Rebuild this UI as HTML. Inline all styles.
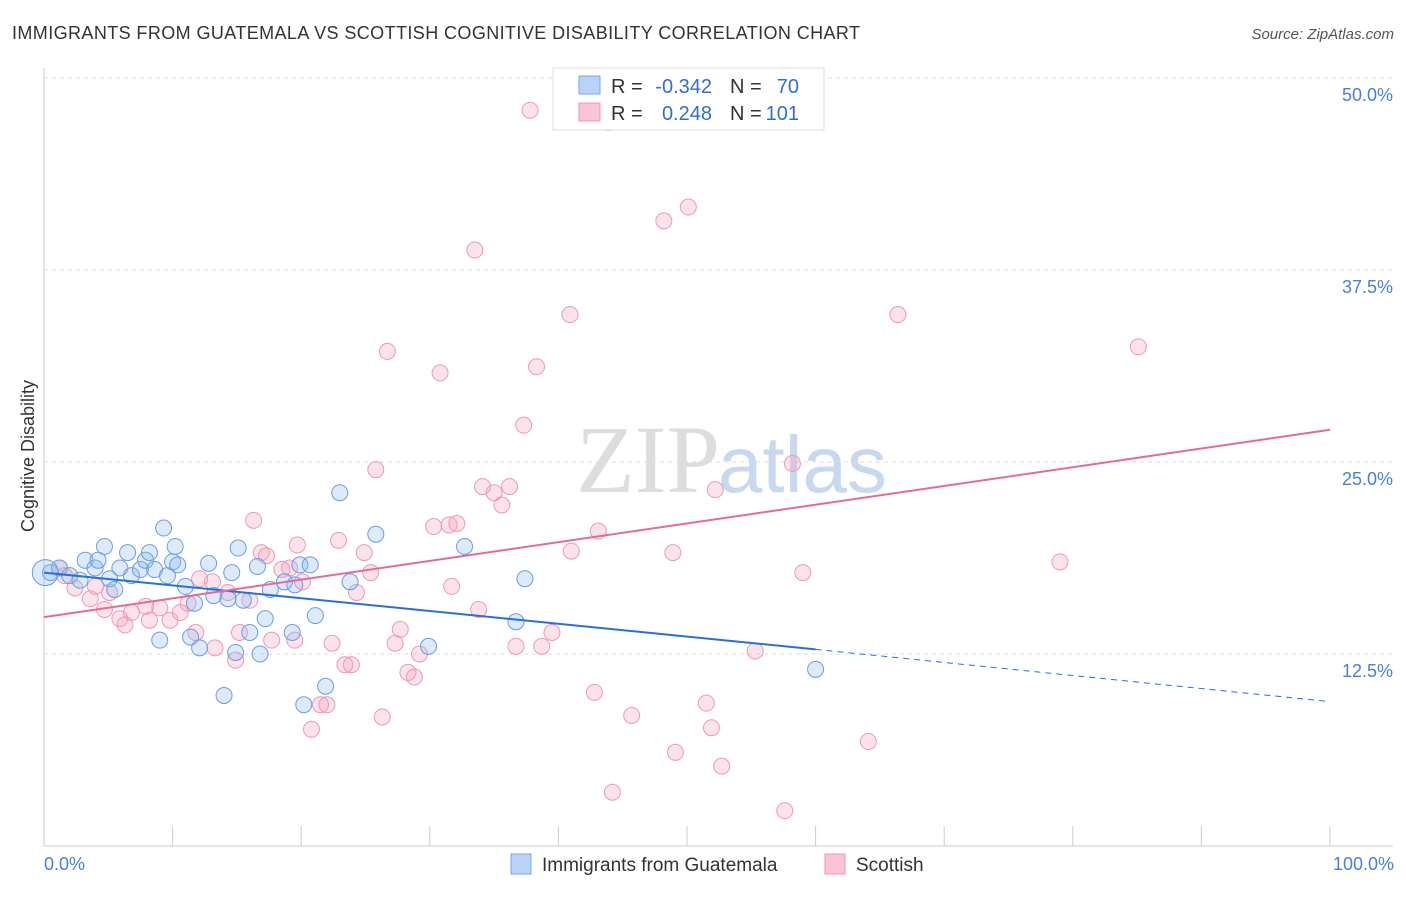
<!DOCTYPE html>
<html><head><meta charset="utf-8"><style>
body{margin:0;background:#fff;font-family:"Liberation Sans",sans-serif}
</style></head><body>
<svg width="1406" height="892" xmlns="http://www.w3.org/2000/svg" font-family="Liberation Sans, sans-serif">
<text x="12" y="39" font-size="18" fill="#333" textLength="848" lengthAdjust="spacing">IMMIGRANTS FROM GUATEMALA VS SCOTTISH COGNITIVE DISABILITY CORRELATION CHART</text>
<text x="1394" y="39" font-size="15" fill="#555" text-anchor="end" font-style="italic">Source: ZipAtlas.com</text>
<text x="720" y="492" font-size="96" fill="#ddd" text-anchor="end" font-family="Liberation Serif, serif">ZIP</text>
<text x="718" y="492" font-size="80" fill="#c8d8ee">atlas</text>
<g id="grid"></g>
<g id="axes"></g>
<g id="pts"></g>
<g id="lines"></g>
<text x="34" y="456" font-size="18" fill="#333" text-anchor="middle" transform="rotate(-90 34 456)">Cognitive Disability</text>
<text x="44" y="870" font-size="18" fill="#4a7fd4">0.0%</text>
<text x="1394" y="870" font-size="18" fill="#4a7fd4" text-anchor="end">100.0%</text>
<g>
<rect x="553" y="68" width="271" height="62" fill="#fff" stroke="#ddd"/>
<rect x="579" y="76" width="21" height="18" fill="#b8d3f5" stroke="#7aa8e6"/>
<rect x="579" y="103" width="21" height="18" fill="#f9c4d3" stroke="#ee96b0"/>
<text x="611" y="93" font-size="20" fill="#333">R =</text>
<text x="712" y="93" font-size="20" fill="#2f6fd0" text-anchor="end">-0.342</text>
<text x="730" y="93" font-size="20" fill="#333">N =</text>
<text x="799" y="93" font-size="20" fill="#2f6fd0" text-anchor="end">70</text>
<text x="611" y="120" font-size="20" fill="#333">R =</text>
<text x="712" y="120" font-size="20" fill="#2f6fd0" text-anchor="end">0.248</text>
<text x="730" y="120" font-size="20" fill="#333">N =</text>
<text x="799" y="120" font-size="20" fill="#2f6fd0" text-anchor="end">101</text>
</g>
<g>
<rect x="511" y="854" width="20" height="20" fill="#b8d3f5" stroke="#7aa8e6"/>
<text x="542" y="871" font-size="19" fill="#333">Immigrants from Guatemala</text>
<rect x="825" y="854" width="20" height="20" fill="#f9c4d3" stroke="#ee96b0"/>
<text x="856" y="871" font-size="19" fill="#333">Scottish</text>
</g>
</svg>
<script>
const yTicks=[12.5,25,37.5,50];
const yTickLabels=["12.5%","25.0%","37.5%","50.0%"];
const xTicks=[0,10,20,30,40,50,60,70,80,90,100];
const blueX=[0.5,1.2,2.0,2.8,3.2,3.97,4.2,4.7,5.1,5.5,5.9,6.5,6.8,7.5,7.9,8.2,8.6,9.0,9.3,9.6,10.0,10.2,10.4,11.0,11.4,11.7,12.1,12.8,13.2,14.0,14.3,14.6,14.9,15.1,15.5,16.0,16.6,16.8,17.2,17.6,18.7,19.3,19.5,19.9,20.2,20.7,21.1,21.9,23.0,23.8,25.8,29.9,32.7,36.7,37.4,60.0,0.1];
const blueY=[17.8,18.1,17.6,17.3,18.6,18.1,18.6,19.5,17.4,16.7,18.1,19.1,17.6,18.0,18.6,19.1,18.0,13.4,20.7,17.6,18.5,19.5,18.3,16.9,13.6,15.8,12.9,18.4,16.3,9.8,16.1,17.8,12.6,19.4,16.0,13.9,18.2,12.5,14.8,16.7,17.2,13.9,17.0,18.3,9.2,18.3,15.0,10.4,23.0,17.2,20.3,13.0,19.5,14.6,17.4,11.5,17.8];
const pinkX=[37.8,43.9,48.2,50.1,33.5,40.9,66.4,85.1,26.7,30.8,38.3,37.3,25.8,58.2,34.1,35.0,36.2,35.6,52.2,16.3,30.3,31.5,32.1,43.1,22.9,19.7,16.9,17.3,24.9,41.0,48.9,79.0,59.0,25.4,18.5,19.1,20.1,12.1,13.1,31.7,24.3,14.3,16.0,9.0,7.9,10.6,11.2,6.8,5.9,4.7,3.6,4.0,5.1,2.4,1.6,1.2,33.8,8.2,9.8,6.3,11.8,15.2,17.7,19.5,22.4,27.7,27.3,29.2,36.7,38.7,39.5,55.3,13.3,14.9,23.4,23.9,28.3,28.8,42.8,51.5,21.5,22.0,45.7,26.3,51.9,20.8,64.1,49.1,52.7,44.2,57.6,53.8];
const pinkY=[47.9,47.1,40.7,41.6,38.8,34.6,34.6,32.5,32.2,30.8,31.2,27.4,24.5,24.9,23.4,23.0,23.4,22.2,23.2,21.2,20.8,20.9,21.0,20.5,19.9,19.6,19.1,18.9,19.1,19.2,19.1,18.5,17.8,17.8,18.0,18.1,17.2,17.4,17.2,16.9,16.5,16.5,16.0,15.5,15.6,15.2,15.8,15.2,14.8,15.4,16.1,16.9,16.5,16.8,17.6,18.1,15.4,14.7,14.7,14.4,13.9,13.9,13.4,13.4,13.2,14.1,13.2,12.5,13.0,13.0,13.9,12.7,12.9,12.1,11.8,11.8,11.3,11.0,10.0,9.3,9.2,9.2,8.5,8.4,7.7,7.6,6.8,6.1,5.2,3.5,2.3,49.9];
const blueTrend=[[0,17.8],[60,12.8],[100,9.4]];
const pinkTrend=[[0,14.9],[100,27.1]];
const NS="http://www.w3.org/2000/svg";
const sx=v=>44+v*12.86, sy=v=>846-v*15.36;
function mk(t,a,p){const e=document.createElementNS(NS,t);for(const k in a)e.setAttribute(k,a[k]);document.getElementById(p).appendChild(e);return e;}
yTicks.forEach((t,i)=>{
 const g=mk('line',{x1:44,x2:1393,y1:sy(t),y2:sy(t),stroke:'#ddd','stroke-dasharray':'4,4'},'grid');
 
 
 const l=mk('text',{x:1393,y:sy(t)+23,'font-size':18,fill:'#4a7fd4','text-anchor':'end'},'axes');
 l.textContent=yTickLabels[i];
 
 
});
const ax=mk('line',{x1:44,x2:1393,y1:846,y2:846,stroke:'#ccc'},'axes');


const ay=mk('line',{x1:44,x2:44,y1:68,y2:846,stroke:'#ccc'},'axes');


xTicks.forEach(t=>{const e=mk('line',{x1:sx(t),x2:sx(t),y1:826,y2:846,stroke:'#ccc'},'axes');
 
 });
pinkX.forEach((x,i)=>{const c=mk('circle',{cx:sx(x),cy:sy(pinkY[i]),r:8,fill:'rgba(244,160,186,0.3)',stroke:'#ee9ab4','stroke-width':1},'pts');
 
 });
blueX.forEach((x,i)=>{const c=mk('circle',{cx:sx(x),cy:sy(blueY[i]),r:i==blueX.length-1?13:8,fill:'rgba(140,185,240,0.3)',stroke:'#6a9ee0','stroke-width':1},'pts');
 
 });
const b1=mk('line',{x1:sx(blueTrend[0][0]),y1:sy(blueTrend[0][1]),x2:sx(blueTrend[1][0]),y2:sy(blueTrend[1][1]),stroke:'#2a6fd6','stroke-width':2},'lines');


const b2=mk('line',{x1:sx(blueTrend[1][0]),y1:sy(blueTrend[1][1]),x2:sx(blueTrend[2][0]),y2:sy(blueTrend[2][1]),stroke:'#2a6fd6','stroke-width':1,'stroke-dasharray':'6,5'},'lines');


const p1=mk('line',{x1:sx(pinkTrend[0][0]),y1:sy(pinkTrend[0][1]),x2:sx(pinkTrend[1][0]),y2:sy(pinkTrend[1][1]),stroke:'#e66a96','stroke-width':2},'lines');


</script>
</body></html>
